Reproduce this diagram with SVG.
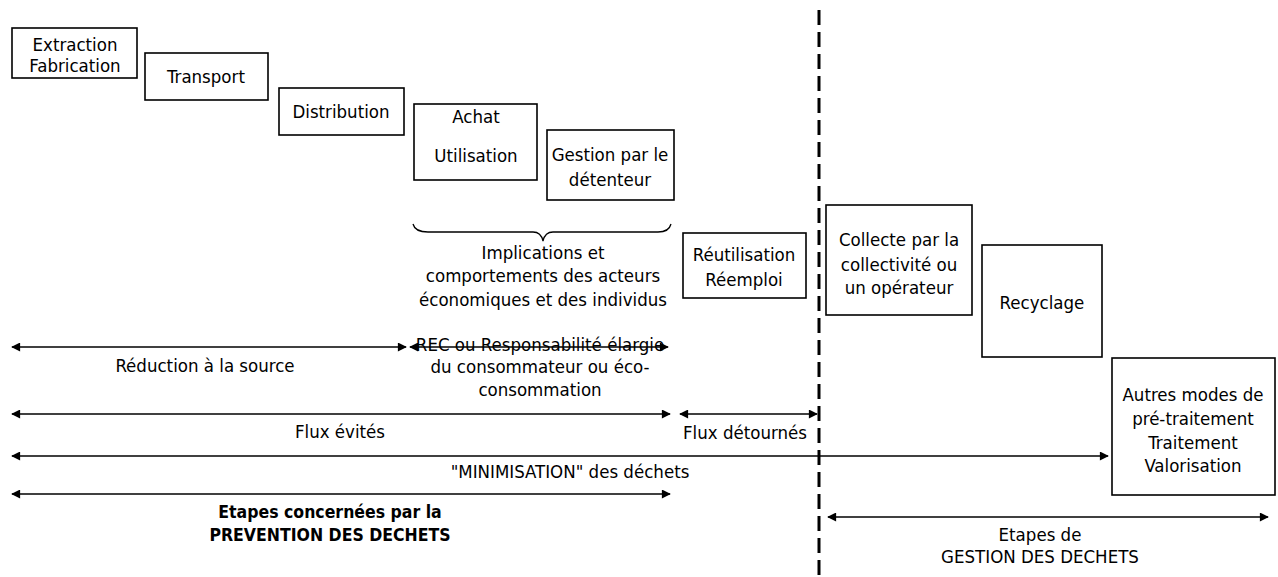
<svg xmlns="http://www.w3.org/2000/svg" width="1278" height="577" viewBox="0 0 1278 577">
<defs>
<marker id="ah" viewBox="0 0 10 10" refX="9" refY="5" markerWidth="11" markerHeight="9" markerUnits="userSpaceOnUse" orient="auto-start-reverse">
<path d="M0,0 L10,5 L0,10 z" fill="#000"/>
</marker>
<style>
.box{fill:#fff;stroke:#000;stroke-width:1.6}
text{font-family:"DejaVu Sans Condensed","DejaVu Sans",sans-serif;font-size:18.5px;fill:#000;text-anchor:middle}
.b{font-weight:bold;font-size:17.5px}
.arr{stroke:#000;stroke-width:1.5;fill:none;marker-start:url(#ah);marker-end:url(#ah)}
.sep{stroke:#000;stroke-width:3;stroke-dasharray:15 7;fill:none}
</style>
</defs>
<rect width="1278" height="577" fill="#fff"/>
<g id="separator"><line class="sep" x1="819" y1="10" x2="819" y2="577"/></g>
<g id="n1"><rect class="box" x="12" y="28" width="125" height="50"/><text x="75" y="51">Extraction</text><text x="75" y="72">Fabrication</text></g>
<g id="n2"><rect class="box" x="145" y="53" width="123" height="47"/><text x="206" y="83">Transport</text></g>
<g id="n3"><rect class="box" x="279" y="88" width="125" height="47"/><text x="341" y="118">Distribution</text></g>
<g id="n4"><rect class="box" x="414" y="104" width="123" height="76"/><text x="476" y="123">Achat</text><text x="476" y="162">Utilisation</text></g>
<g id="n5"><rect class="box" x="547" y="130" width="127" height="70"/><text x="610" y="161">Gestion par le</text><text x="610" y="186">détenteur</text></g>
<g id="n6"><rect class="box" x="683" y="233" width="123" height="65"/><text x="744" y="261">Réutilisation</text><text x="744" y="286">Réemploi</text></g>
<g id="n7"><rect class="box" x="826" y="205" width="146" height="110"/><text x="899" y="246">Collecte par la</text><text x="899" y="271">collectivité ou</text><text x="899" y="294">un opérateur</text></g>
<g id="n8"><rect class="box" x="982" y="245" width="120" height="112"/><text x="1042" y="309">Recyclage</text></g>
<g id="n9"><rect class="box" x="1112" y="358" width="163" height="137"/><text x="1193" y="401">Autres modes de</text><text x="1193" y="425">pré-traitement</text><text x="1193" y="449">Traitement</text><text x="1193" y="472">Valorisation</text></g>
<g id="brace"><path d="M413,224 Q415,232 428,232 L533,232 Q541,232 543,241 Q545,232 553,232 L658,232 Q669,232 671,224" fill="none" stroke="#000" stroke-width="1.3"/><text x="543" y="259">Implications et</text><text x="543" y="282">comportements des acteurs</text><text x="543" y="306">économiques et des individus</text></g>
<g id="connectors">
<line class="arr" x1="12" y1="347" x2="406" y2="347"/>
<line class="arr" x1="410" y1="347" x2="668" y2="347"/>
<line class="arr" x1="12" y1="414" x2="670" y2="414"/>
<line class="arr" x1="680" y1="414" x2="817" y2="414"/>
<line class="arr" x1="12" y1="456" x2="1108" y2="456"/>
<line class="arr" x1="12" y1="494" x2="670" y2="494"/>
<line class="arr" x1="828" y1="517" x2="1268" y2="517"/>
</g>
<g id="labels">
<text x="205" y="372">Réduction à la source</text>
<text x="540" y="351">REC ou Responsabilité élargie</text>
<text x="540" y="373">du consommateur ou éco-</text>
<text x="540" y="396">consommation</text>
<text x="340" y="438">Flux évités</text>
<text x="745" y="439">Flux détournés</text>
<text x="570" y="478">"MINIMISATION" des déchets</text>
<text class="b" x="330" y="518">Etapes concernées par la</text>
<text class="b" x="330" y="541">PREVENTION DES DECHETS</text>
<text x="1040" y="541">Etapes de</text>
<text x="1040" y="563">GESTION DES DECHETS</text>
</g>
</svg>
